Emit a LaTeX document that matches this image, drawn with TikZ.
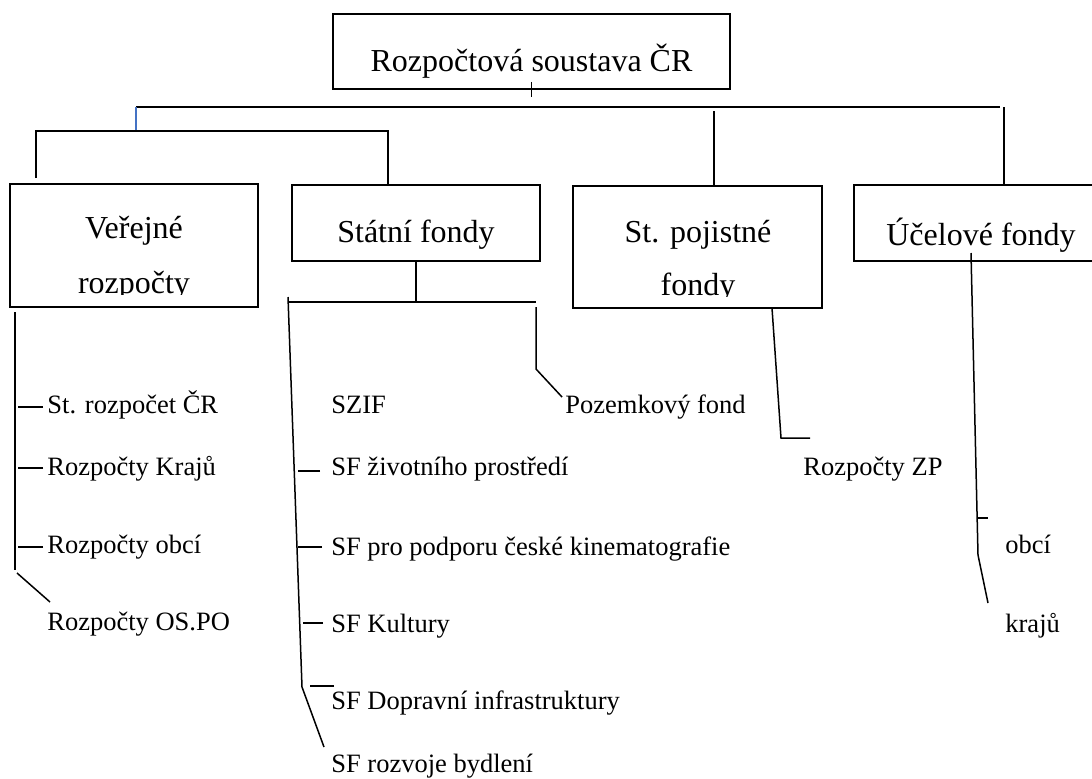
\documentclass[tikz,border=0pt]{standalone}
\usepackage{fontspec}
\setmainfont{Liberation Serif}
\definecolor{lineblue}{RGB}{68,114,196}
\tikzset{
    box/.style={draw, line width=0.9pt, inner sep=0pt},
    head/.style={anchor=base, inner sep=0pt, font=\fontsize{16}{19}\selectfont},
    leaf/.style={anchor=base west, inner sep=0pt, font=\fontsize{13.25}{16}\selectfont},
    link/.style={line width=0.75pt},
}

\begin{document}
\begin{tikzpicture}[x=0.5pt, y=-0.5pt]
    \useasboundingbox (0,0) rectangle (1092,778);

    % boxes
    \node [box, minimum width=198.5pt, minimum height=37.5pt] (top) at (531.5,51.5) {};
    \node [box, minimum width=124pt, minimum height=61.5pt] (ver) at (134,245.5) {};
    \node [box, minimum width=124pt, minimum height=38pt] (sta) at (416,223) {};
    \node [box, minimum width=124.5pt, minimum height=61pt] (poj) at (697.5,247) {};
    \node [box, minimum width=125pt, minimum height=38pt] (ucel) at (979,223) {};

    \node [head] (topT) at (531.5,71) {Rozpočtová soustava ČR};
    \node [head] (staT) at (416,242) {Státní fondy};
    \node [head] (ucelT) at (981,245) {Účelové fondy};
    \begin{scope}
        \clip (ver.north west) rectangle (258,294);
        \node [head] (verA) at (134,238) {Veřejné};
        \node [head] (verB) at (134,293) {rozpočty};
    \end{scope}
    \begin{scope}
        \clip (poj.north west) rectangle (822,296);
        \node [head] (pojA) at (698,242) {St. pojistné};
        \node [head] (pojB) at (698,295) {fondy};
    \end{scope}

    % top level
    \coordinate (busL) at (136,107);
    \coordinate (busR) at (1000,107);
    \coordinate (subM) at (136,131);
    \coordinate (subL) at (36,131);
    \coordinate (subR) at (388,131);
    \coordinate (verTop) at (36,178);
    \coordinate (pojTop) at (714,111);
    \coordinate (ucelTop) at (1004,107);
    \draw [link] ([yshift=4pt]top.south) -- ([yshift=-3.5pt]top.south);
    \draw [link] (busL) -- (busR);
    \draw [link, draw=lineblue] (busL) -- (subM);
    \draw [link] (verTop) -- (subL) -- (subR) -- (subR |- sta.north);
    \draw [link] (pojTop) -- (pojTop |- poj.north);
    \draw [link] (ucelTop) -- (ucelTop |- ucel.north);

    % Verejne rozpocty
    \node [leaf] (vSt) at (47,413) {St. rozpočet ČR};
    \node [leaf] (vKr) at (47,475) {Rozpočty Krajů};
    \node [leaf] (vOb) at (47,553) {Rozpočty obcí};
    \node [leaf] (vOs) at (47,630) {Rozpočty OS.PO};
    \coordinate (v0) at (15,312);
    \coordinate (v1) at (15,570);
    \coordinate (v2) at (17,573);
    \coordinate (v3) at (50,602);
    \draw [link] (v0) -- (v1);
    \draw [link] (v2) -- (v3);
    \draw [link] ([shift={(-2pt,3pt)}]vSt.base west) -- ++(-12.5pt,0);
    \draw [link] ([shift={(-2pt,3.5pt)}]vKr.base west) -- ++(-12.5pt,0);
    \draw [link] ([shift={(-2pt,3pt)}]vOb.base west) -- ++(-12.5pt,0);

    % Statni fondy
    \node [leaf] (sSzif) at (331,413) {SZIF};
    \node [leaf] (sZiv) at (331,475) {SF životního prostředí};
    \node [leaf] (sKin) at (331,555) {SF pro podporu české kinematografie};
    \node [leaf] (sKul) at (331,632) {SF Kultury};
    \node [leaf] (sDop) at (331,709) {SF Dopravní infrastruktury};
    \node [leaf] (sByd) at (331,772) {SF rozvoje bydlení};
    \node [leaf] (sPoz) at (565,413) {Pozemkový fond};
    \coordinate (staL) at (288,302);
    \coordinate (staR) at (536,302);
    \coordinate (s0) at (288,297);
    \coordinate (s1) at (302,687);
    \coordinate (s2) at (324,747);
    \coordinate (p0) at (536,307);
    \coordinate (p1) at (536,369);
    \coordinate (p2) at (562,397);
    \draw [link] (sta.south) -- (sta.south |- staL);
    \draw [link] (staL) -- (staR);
    \draw [link] (s0) -- (s1) -- (s2);
    \draw [link] (p0) -- (p1) -- (p2);
    \draw [link] ([shift={(-5.5pt,2pt)}]sZiv.base west) -- ++(-11pt,0);
    \draw [link] ([shift={(-4.5pt,4pt)}]sKin.base west) -- ++(-12pt,0);
    \draw [link] ([shift={(-4pt,4.5pt)}]sKul.base west) -- ++(-10pt,0);
    \draw [link] ([shift={(1.5pt,11.5pt)}]sDop.base west) -- ++(-12pt,0);

    % St. pojistne fondy
    \node [leaf] (pZp) at (803,475) {Rozpočty ZP};
    \coordinate (z0) at (772,308);
    \coordinate (z1) at (781,438);
    \coordinate (z2) at (810,438);
    \draw [link] (z0) -- (z1) -- (z2);

    % Ucelove fondy
    \node [leaf] (uObc) at (1005,553) {obcí};
    \node [leaf] (uKra) at (1005,632) {krajů};
    \coordinate (u0) at (971,253);
    \coordinate (u1) at (978,555);
    \coordinate (u2) at (988,603);
    \coordinate (uT) at (978,518);
    \draw [link] (u0) -- (u1) -- (u2);
    \draw [link] (uT) -- ++(5pt,0);
\end{tikzpicture}
\end{document}
